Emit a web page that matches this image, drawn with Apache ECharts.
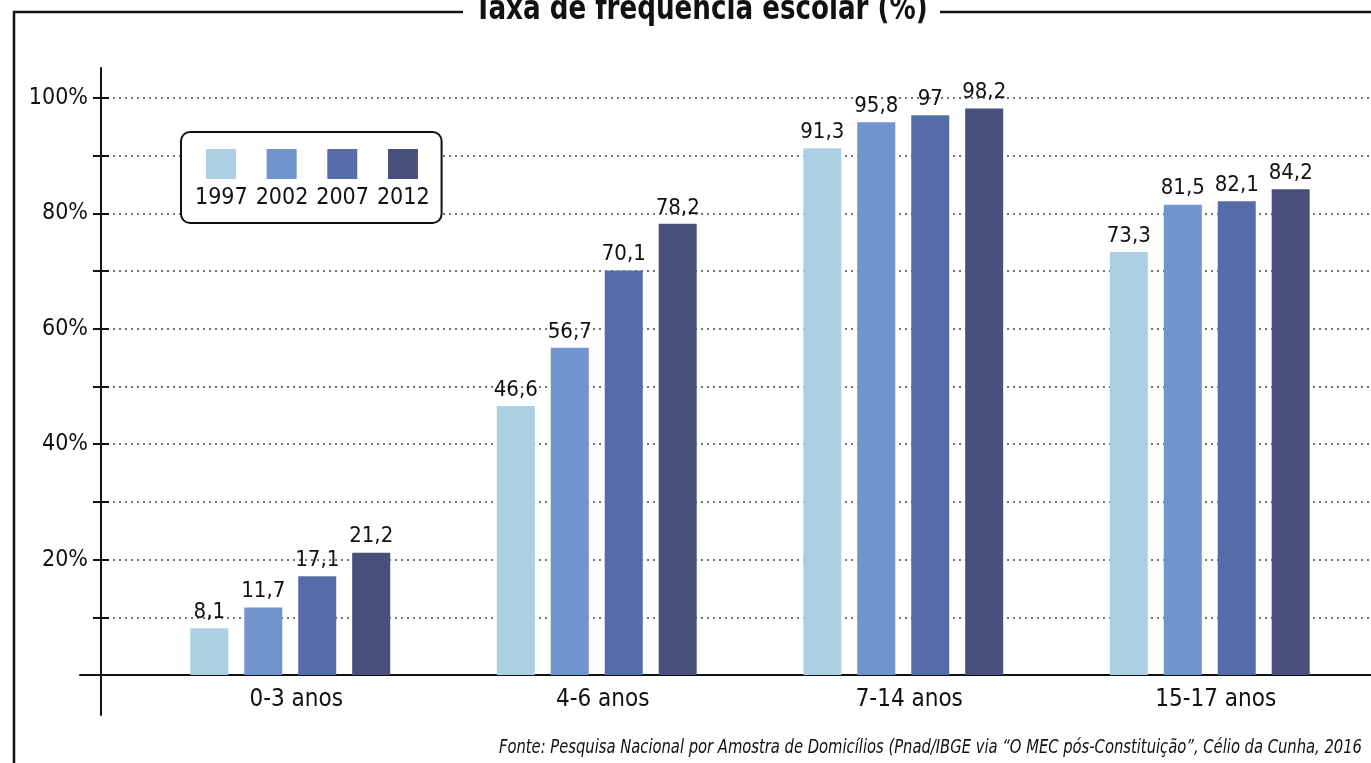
<!DOCTYPE html>
<html>
<head>
<meta charset="utf-8">
<script src="https://cdn.jsdelivr.net/npm/echarts@6/dist/echarts.min.js"></script>
<style>
  html, body { margin: 0; padding: 0; background: #fff; }
  #chart { width: 1371px; height: 763px; }
</style>
</head>
<body>
<div id="chart"></div>
<script>
// Faixas etárias e anos da pesquisa
const categories = ['0-3 anos', '4-6 anos', '7-14 anos', '15-17 anos'];
const years = ['1997', '2002', '2007', '2012'];

// Taxa de frequência escolar (%) por ano
const rate1997 = [8.1, 46.6, 91.3, 73.3];
const rate2002 = [11.7, 56.7, 95.8, 81.5];
const rate2007 = [17.1, 70.1, 97, 82.1];
const rate2012 = [21.2, 78.2, 98.2, 84.2];

// Rótulos do eixo vertical
const yTickLabels = [20, 40, 60, 80, 100];

const titleText = 'Taxa de frequência escolar (%)';
const sourceText = 'Fonte: Pesquisa Nacional por Amostra de Domicílios (Pnad/IBGE via \u201cO MEC pós-Constituição\u201d, Célio da Cunha, 2016';

const FONT = "'DejaVu Sans Condensed', 'DejaVu Sans', sans-serif";
const colors = ['#accfe2', '#7094cb', '#566ca9', '#484f7b'];
const seriesValues = [rate1997, rate2002, rate2007, rate2012];

const fmtComma = v => String(v).replace('.', ',');

const chart = echarts.init(document.getElementById('chart'), null, { renderer: 'canvas' });

const series = years.map((y, i) => ({
  name: y,
  type: 'bar',
  xAxisIndex: 0,
  yAxisIndex: 0,
  data: seriesValues[i],
  barWidth: 38,
  barGap: '42%',
  itemStyle: { color: colors[i] },
  label: {
    show: true,
    position: 'top',
    distance: 5,
    fontFamily: FONT,
    fontSize: 22,
    color: '#111',
    formatter: p => fmtComma(p.value)
  }
}));

const option = {
  animation: false,
  backgroundColor: '#fff',
  textStyle: { fontFamily: FONT },
  graphic: [
    // moldura: borda esquerda e linha superior interrompida pelo título
    {
      type: 'polyline',
      shape: { points: [[14, 763], [14, 12], [463, 12]] },
      style: { stroke: '#111', lineWidth: 2.5, fill: null }
    },
    {
      type: 'line',
      shape: { x1: 940, y1: 12, x2: 1371, y2: 12 },
      style: { stroke: '#111', lineWidth: 2.5 }
    },
    {
      type: 'text',
      x: 701,
      y: 10,
      scaleX: 0.855,
      style: {
        text: titleText,
        x: 0,
        y: 0,
        align: 'center',
        verticalAlign: 'middle',
        font: "bold 34px " + FONT,
        fill: '#111'
      }
    },
    {
      type: 'text',
      x: 1362,
      y: 748,
      scaleX: 0.82,
      style: {
        text: sourceText,
        x: 0,
        y: 0,
        align: 'right',
        verticalAlign: 'middle',
        font: "italic 20px " + FONT,
        fill: '#111'
      }
    }
  ],
  legend: {
    data: years,
    left: 181,
    top: 132,
    orient: 'horizontal',
    icon: 'rect',
    itemWidth: 30,
    itemHeight: 30,
    itemGap: 8,
    padding: [17, 12, 13, 14],
    borderColor: '#111',
    borderWidth: 2,
    borderRadius: 9,
    backgroundColor: '#fff',
    selectedMode: false,
    formatter: name => '{y|' + name + '}',
    textStyle: {
      fontFamily: FONT,
      color: '#111',
      rich: {
        y: {
          fontFamily: FONT,
          fontSize: 23,
          color: '#111',
          padding: [69, 0, 0, -46]
        }
      }
    }
  },
  grid: [
    { left: 137, right: 8, top: 98, bottom: 88 },
    { left: 101, right: 0, top: 98, bottom: 88 },
    { left: 80, right: 0, top: 68, bottom: 48 }
  ],
  xAxis: [
    {
      gridIndex: 0,
      type: 'category',
      data: categories,
      axisLine: { show: false },
      axisTick: { show: false },
      axisLabel: {
        fontFamily: FONT,
        fontSize: 24,
        color: '#111',
        margin: 13,
        padding: [0, 0, 0, 12]
      }
    },
    { gridIndex: 1, type: 'value', show: false },
    {
      gridIndex: 2,
      type: 'value',
      position: 'bottom',
      offset: -40,
      axisLine: { show: true, onZero: false, lineStyle: { color: '#111', width: 2 } },
      axisTick: { show: false },
      axisLabel: { show: false },
      splitLine: { show: false }
    }
  ],
  yAxis: [
    { gridIndex: 0, type: 'value', min: 0, max: 100, show: false },
    {
      gridIndex: 1,
      type: 'value',
      min: 0,
      max: 100,
      interval: 10,
      position: 'left',
      axisLine: { show: false },
      axisTick: { show: true, inside: false, length: 8, lineStyle: { color: '#111', width: 2 } },
      axisLabel: {
        fontFamily: FONT,
        fontSize: 23,
        color: '#111',
        margin: 13,
        formatter: v => (yTickLabels.indexOf(v) >= 0 ? v + '%' : '')
      },
      splitLine: {
        show: true,
        lineStyle: { color: '#444', width: 1.5, type: [2, 4] }
      }
    },
    {
      gridIndex: 1,
      type: 'value',
      min: 0,
      max: 100,
      interval: 10,
      position: 'left',
      axisLine: { show: false },
      axisTick: { show: true, inside: true, length: 8, lineStyle: { color: '#111', width: 2 } },
      axisLabel: { show: false },
      splitLine: { show: false }
    },
    {
      gridIndex: 2,
      type: 'value',
      position: 'left',
      offset: -21,
      axisLine: { show: true, onZero: false, lineStyle: { color: '#111', width: 2 } },
      axisTick: { show: false },
      axisLabel: { show: false },
      splitLine: { show: false }
    }
  ],
  series: series
};

chart.setOption(option);
</script>
</body>
</html>
